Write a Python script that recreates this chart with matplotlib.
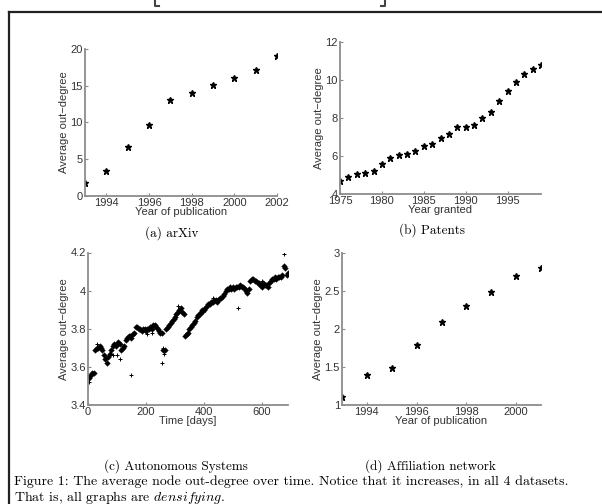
import numpy as np
import matplotlib
matplotlib.use("Agg")
import matplotlib.pyplot as plt
from matplotlib.lines import Line2D

plt.rcParams['font.family'] = ['Liberation Sans', 'DejaVu Sans']
plt.rcParams['mathtext.fontset'] = 'cm'

# (a) arXiv
arxiv_jahr = [1993, 1994, 1995, 1996, 1997, 1998, 1999, 2000, 2001, 2002]
arxiv_grad = [1.82, 3.36, 6.6, 9.64, 13.0, 14.05, 15.05, 16.05, 17.1, 19.1]

# (b) Patents
pat_jahr = list(range(1975, 2000))
pat_grad = [4.7, 4.91, 5.03, 5.09, 5.21, 5.58, 5.88, 6.03, 6.12, 6.28, 6.54, 6.63, 6.95,
            7.18, 7.53, 7.53, 7.65, 8.0, 8.32, 8.91, 9.42, 9.88, 10.32, 10.58, 10.81]

# (c) Autonomous Systems (Tage, Wert)
as_tage = [0, 5, 10, 15, 20, 25, 30, 35, 40, 45, 50, 55, 60, 65, 70, 75, 80, 85, 90, 95,
           100, 105, 110, 115, 120, 125, 130, 135, 140, 145, 150, 155, 160, 165, 170, 175,
           180, 185, 190, 195, 200, 205, 210, 215, 220, 225, 230, 235, 240, 245, 250, 255,
           260, 265, 270, 275, 280, 285, 290, 295, 300, 305, 310, 315, 320, 325, 330, 335,
           340, 345, 350, 355, 360, 365, 370, 375, 380, 385, 390, 395, 400, 405, 410, 415,
           420, 425, 430, 435, 440, 445, 450, 455, 460, 465, 470, 475, 480, 485, 490, 495,
           500, 505, 510, 515, 520, 525, 530, 535, 540, 545, 550, 555, 560, 565, 570, 575,
           580, 585, 590, 595, 600, 605, 610, 615, 620, 625, 630, 635, 640, 645, 650, 655,
           660, 665, 670, 675, 680, 685, 690]
as_grad = [3.55, 3.54, 3.56, 3.57, 3.57, 3.69, 3.70, 3.70, 3.71, 3.70, 3.69, 3.66, 3.64,
           3.62, 3.65, 3.67, 3.69, 3.71, 3.72, 3.71, 3.72, 3.73, 3.72, 3.69, 3.70, 3.71,
           3.74, 3.75, 3.76, 3.76, 3.75, 3.77, 3.78, 3.81, 3.81, 3.80, 3.80, 3.79, 3.80,
           3.80, 3.79, 3.80, 3.80, 3.81, 3.80, 3.82, 3.82, 3.81, 3.80, 3.79, 3.78, 3.78,
           3.69, 3.69, 3.80, 3.81, 3.82, 3.83, 3.84, 3.85, 3.86, 3.88, 3.89, 3.90, 3.91,
           3.89, 3.88, 3.76, 3.77, 3.78, 3.80, 3.81, 3.82, 3.83, 3.84, 3.86, 3.87, 3.88,
           3.89, 3.90, 3.90, 3.91, 3.92, 3.93, 3.93, 3.94, 3.94, 3.95, 3.95, 3.94, 3.95,
           3.96, 3.96, 3.97, 3.98, 4.00, 4.01, 4.01, 4.02, 4.01, 4.02, 4.01, 4.02, 4.02,
           4.02, 4.03, 4.02, 4.02, 4.01, 4.00, 3.99, 4.01, 4.05, 4.06, 4.06, 4.05, 4.05,
           4.04, 4.04, 4.03, 4.02, 4.04, 4.03, 4.03, 4.02, 4.04, 4.05, 4.06, 4.06, 4.07,
           4.06, 4.07, 4.07, 4.07, 4.08, 4.13, 4.12, 4.08, 4.09]
# vereinzelte Punkte abseits des Bandes
as_aus_tage = [5, 30, 85, 100, 110, 150, 205, 220, 255, 258, 262, 310, 398, 430, 518, 600, 676]
as_aus_grad = [3.52, 3.72, 3.66, 3.66, 3.64, 3.555, 3.77, 3.78, 3.62, 3.70, 3.67, 3.92,
               3.89, 3.96, 3.91, 4.05, 4.19]

# (d) Affiliation network
aff_jahr = [1993, 1994, 1995, 1996, 1997, 1998, 1999, 2000, 2001]
aff_grad = [1.10, 1.39, 1.49, 1.79, 2.09, 2.30, 2.49, 2.70, 2.80]

W, H = 602, 504
fig = plt.figure(figsize=(W / 100, H / 100), dpi=100)

def achse(l, r, t, b):
    ax = fig.add_axes([l / W, 1 - b / H, (r - l) / W, (b - t) / H])
    for s in ['top', 'right']:
        ax.spines[s].set_visible(False)
    for s in ['left', 'bottom']:
        ax.spines[s].set_color('#8c8c8c')
        ax.spines[s].set_linewidth(1.3)
    ax.tick_params(direction='in', length=2, width=0.8, color='#8c8c8c',
                   labelsize=8, pad=1.5, labelcolor='#333333')
    ax.set_ylabel('Average out\u2212degree', fontsize=8, labelpad=1, color='#333333')
    return ax

def unterschrift(x, y, s):
    fig.text(x / W, 1 - y / H, s, family='cmr10', fontsize=9.5, ha='center', va='center')

punkt = dict(ls='none', marker='*', ms=4.5, color='k', mec='k', mew=1.0)

ax = achse(85, 277, 49, 196)
ax.plot(arxiv_jahr, arxiv_grad, **punkt)
ax.set_xlim(1993, 2002)
ax.set_ylim(0, 20)
ax.set_xticks([1994, 1996, 1998, 2000, 2002])
ax.set_yticks([0, 5, 10, 15, 20])
ax.set_xlabel('Year of publication', fontsize=8, labelpad=-1, color='#333333')
unterschrift(172, 233, '(a) arXiv')

ax = achse(340, 541, 42, 194)
ax.plot(pat_jahr, pat_grad, **punkt)
ax.set_xlim(1975, 1999)
ax.set_ylim(4, 12)
ax.set_xticks([1975, 1980, 1985, 1990, 1995])
ax.set_yticks([4, 6, 8, 10, 12])
ax.set_xlabel('Year granted', fontsize=8, labelpad=-1, color='#333333')
unterschrift(432, 230, '(b) Patents')

ax = achse(88, 288, 252.5, 405)
ax.plot(as_tage, as_grad, ls='none', marker='o', ms=3.4, color='k', mew=0)
ax.plot(as_tage, as_grad, ls='none', marker='+', ms=4.5, color='k', mew=0.6)
ax.plot(as_aus_tage, as_aus_grad, ls='none', marker='+', ms=2.8, color='k', mew=0.7)
ax.set_xlim(0, 690)
ax.set_ylim(3.4, 4.2)
ax.set_xticks([0, 200, 400, 600])
ax.set_yticks([3.4, 3.6, 3.8, 4.0, 4.2])
ax.set_yticklabels(['3.4', '3.6', '3.8', '4', '4.2'])
ax.set_xlabel('Time [days]', fontsize=8, labelpad=-1, color='#333333')
unterschrift(176, 466, '(c) Autonomous Systems')

ax = achse(342, 541, 253.3, 405)
ax.plot(aff_jahr, aff_grad, **punkt)
ax.set_xlim(1993, 2001)
ax.set_ylim(1, 3)
ax.set_xticks([1994, 1996, 1998, 2000])
ax.set_yticks([1, 1.5, 2, 2.5, 3])
ax.set_yticklabels(['1', '1.5', '2', '2.5', '3'])
ax.set_xlabel('Year of publication', fontsize=8, labelpad=-1, color='#333333')
unterschrift(430, 466, '(d) Affiliation network')

fig.text(14 / W, 1 - 482 / H,
         'Figure 1: The average node out-degree over time. Notice that it increases, in all 4 datasets.',
         family='cmr10', fontsize=10, ha='left', va='center')
fig.text(14 / W, 1 - 497 / H, r'That is, all graphs are $\mathit{densifying}$.',
         family='cmr10', fontsize=10, ha='left', va='center')

# Rahmen links und oben
fig.add_artist(Line2D([9 / W, 9 / W], [0, 1 - 12 / H], color='#222222', lw=1.6))
fig.add_artist(Line2D([9 / W, 1], [1 - 12 / H, 1 - 12 / H], color='#222222', lw=1.6))
# Klammerreste am oberen Rand
fig.add_artist(Line2D([155 / W, 155 / W, 159 / W], [1, 1 - 6 / H, 1 - 6 / H], color='#444444', lw=1.5))
fig.add_artist(Line2D([381 / W, 385 / W, 385 / W], [1 - 6 / H, 1 - 6 / H, 1], color='#444444', lw=1.5))

fig.savefig('out.png', dpi=100)
